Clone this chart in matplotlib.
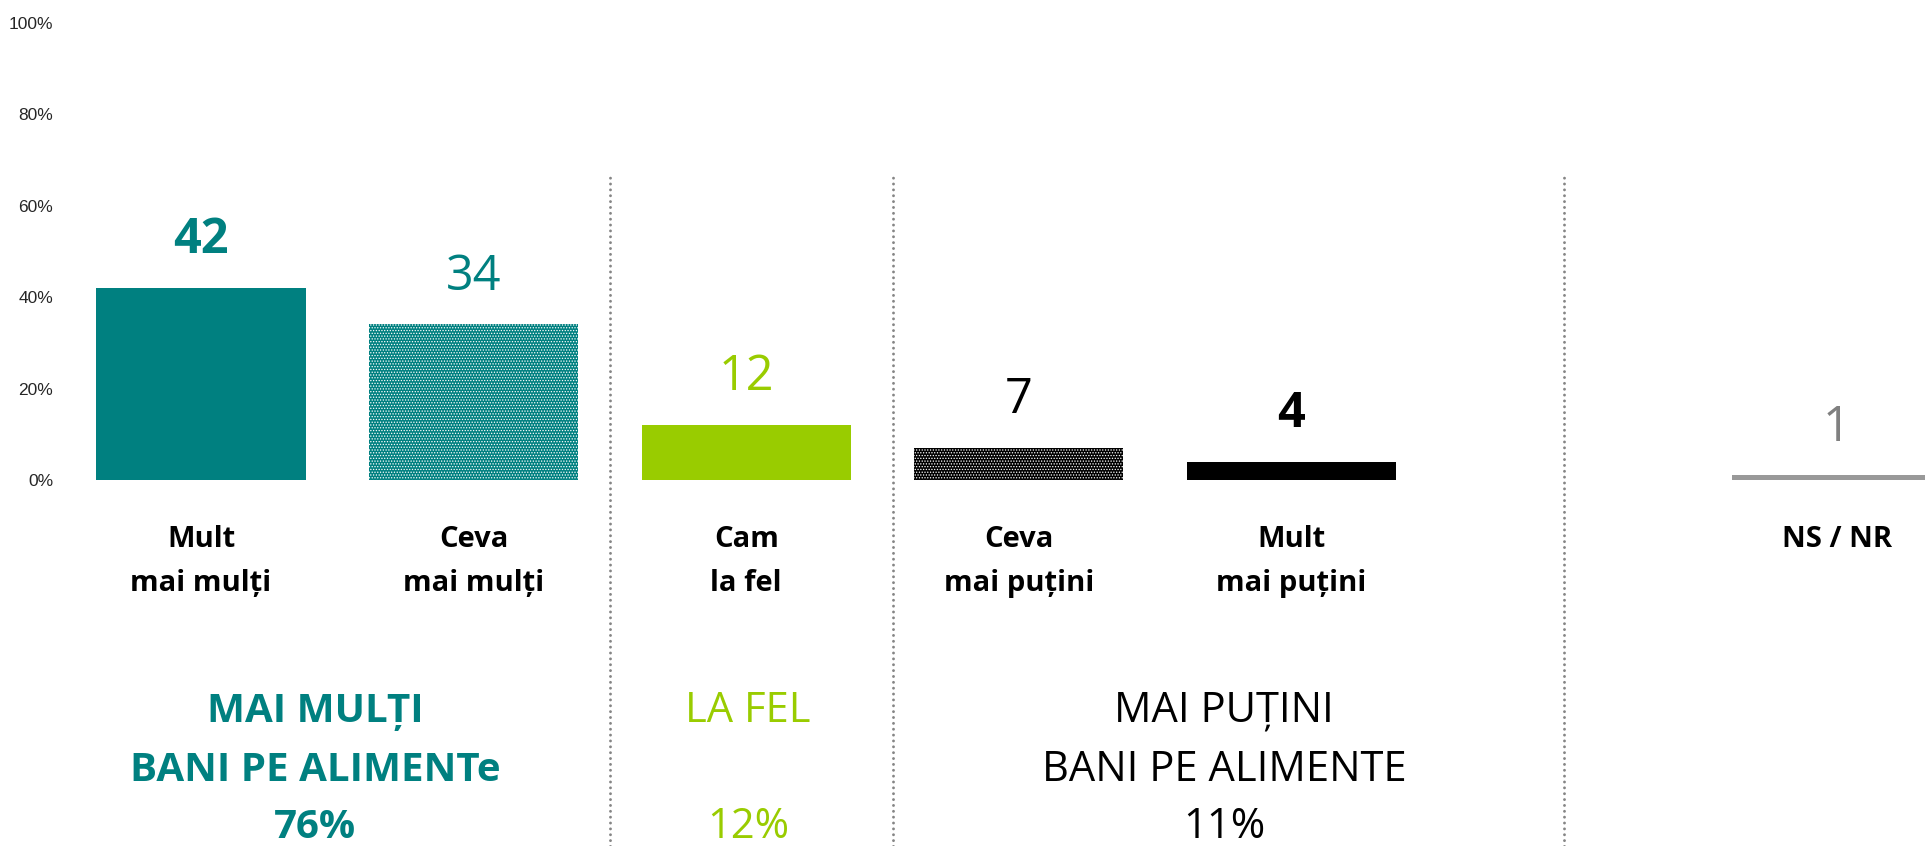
import matplotlib
matplotlib.use("Agg")
import matplotlib.pyplot as plt
from matplotlib.transforms import blended_transform_factory
from matplotlib.lines import Line2D

# ---------------- data ----------------
categories = [["Mult", "mai mulți"], ["Ceva", "mai mulți"], ["Cam", "la fel"],
              ["Ceva", "mai puțini"], ["Mult", "mai puțini"], ["NS / NR", ""]]
values = [42, 34, 12, 7, 4, 1]
positions = [0, 1, 2, 3, 4, 6]
value_labels = ["42", "34", "12", "7", "4", "1"]
y_ticks = [0, 20, 40, 60, 80, 100]
y_tick_labels = ["0%", "20%", "40%", "60%", "80%", "100%"]
group_lines = [["MAI MULȚI", "BANI PE ALIMENTe", "76%"],
               ["LA FEL", "", "12%"],
               ["MAI PUȚINI", "BANI PE ALIMENTE", "11%"]]

# ---------------- styles ----------------
TEAL = "#008080"
GREEN = "#99CC00"
BLACK = "#000000"
GREY = "#999999"
bar_colors = [TEAL, TEAL, GREEN, BLACK, BLACK, GREY]
bar_hatch = [None, "......", None, "......", None, None]
label_colors = [TEAL, TEAL, GREEN, BLACK, BLACK, "#808080"]
label_bold = [True, False, False, False, True, False]
group_colors = [TEAL, GREEN, BLACK]
group_bold = [True, False, False]
group_size = [29, 30, 30]
group_x_px = [315, 748, 1224]
group_baselines_px = [721.5, 780.5, 838]
separators = [1.5, 2.54, 5.0]

plt.rcParams["font.family"] = ["Open Sans", "DejaVu Sans"]
plt.rcParams["hatch.linewidth"] = 0.6

W, H = 1925, 846
fig = plt.figure(figsize=(W / 100, H / 100), dpi=100)
ax_left_px, ax_zero_px, ax_top_px = 60, 480, 22.5
ax = fig.add_axes([ax_left_px / W, 1 - ax_zero_px / H, 1 - ax_left_px / W,
                   (ax_zero_px - ax_top_px) / H])
unit = 272.6
x0 = -(201 - ax_left_px) / unit
ax.set_xlim(x0, x0 + (W - ax_left_px) / unit)
ax.set_ylim(0, 100)

for p, v, c, h in zip(positions, values, bar_colors, bar_hatch):
    if h:
        ax.bar(p, v, width=0.767, color=c, edgecolor="white", linewidth=0,
               hatch=h)
    else:
        ax.bar(p, v, width=0.767, color=c, linewidth=0)

# value labels
for p, v, t, c, b in zip(positions, values, value_labels, label_colors, label_bold):
    ax.annotate(t, (p, v), xytext=(0, 25), textcoords="offset points",
                ha="center", va="baseline", fontsize=35, color=c,
                fontweight="bold" if b else "normal")

# category labels
trans = blended_transform_factory(ax.transData, fig.transFigure)
for p, lines in zip(positions, categories):
    for line, yb in zip(lines, [546.7, 590.7]):
        if line:
            ax.text(p, 1 - yb / H, line, transform=trans, ha="center",
                    va="baseline", fontsize=21, fontweight="bold", color=BLACK)

# group labels
for gx, lines, c, b, fs in zip(group_x_px, group_lines, group_colors,
                               group_bold, group_size):
    for line, yb in zip(lines, group_baselines_px):
        if line:
            fig.text(gx / W, 1 - yb / H, line, ha="center", va="baseline",
                     fontsize=fs, color=c, fontweight="bold" if b else "normal")

# dotted separators
for s in separators:
    fig.add_artist(Line2D([s, s], [0, 1 - 176 / H], transform=trans,
                          color="#858585", linewidth=2.1,
                          linestyle=(0, (0.01, 2.0)), dash_capstyle="round"))

ax.set_yticks(y_ticks)
ax.set_yticklabels(y_tick_labels, family="Liberation Sans", fontsize=12.5,
                   color="#262626")
ax.tick_params(axis="y", length=0, pad=5)
ax.set_xticks([])
for sp in ax.spines.values():
    sp.set_visible(False)

fig.savefig("out.png", dpi=100)
